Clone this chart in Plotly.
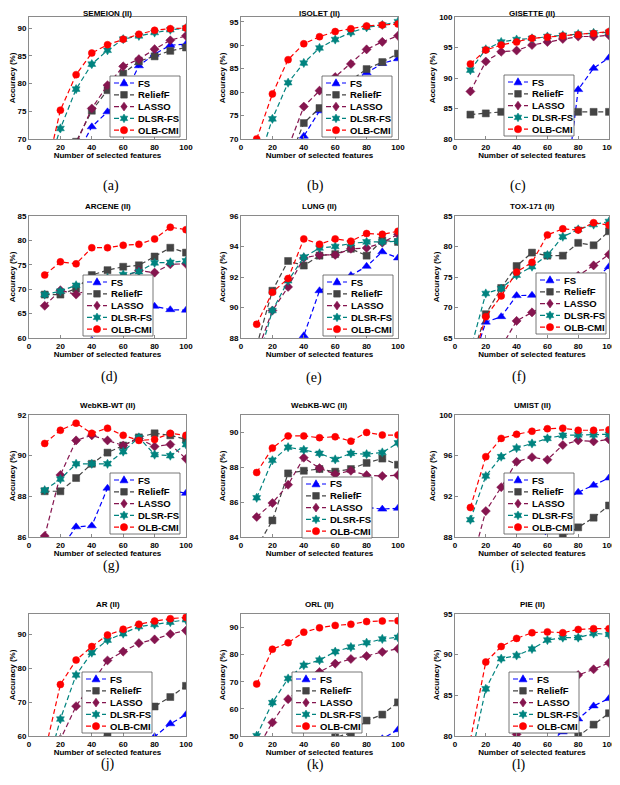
import math

import plotly.graph_objects as go
from plotly.subplots import make_subplots

# the page body keeps its default 8px margin, so the figure starts 8px in
OFF = 8
W, H = 620 - OFF, 785 - OFF
FONT = "Liberation Sans"

n_feat = [10, 20, 30, 40, 50, 60, 70, 80, 90, 100]

methods = ["FS", "ReliefF", "LASSO", "DLSR-FS", "OLB-CMI"]
colors = ["#0000ff", "#444444", "#85154f", "#00837f", "#ff0000"]
symbols = ["triangle-up", "square", "diamond", "hexagram", "circle"]

titles = ["SEMEION (II)", "ISOLET (II)", "GISETTE (II)",
          "ARCENE (II)", "LUNG (II)", "TOX-171 (II)",
          "WebKB-WT (II)", "WebKB-WC (II)", "UMIST (II)",
          "AR (II)", "ORL (II)", "PIE (II)"]
captions = ["(a)", "(b)", "(c)", "(d)", "(e)", "(f)",
            "(g)", "", "(i)", "(j)", "(k)", "(l)"]

# accuracy (%), rows follow `methods`: FS, ReliefF, LASSO, DLSR-FS, OLB-CMI
semeion = [
    [58, 62, 66.9, 72.2, 74.9, 77.5, 83.2, 85.3, 86.9, 87.1],
    [55, 62, 69.5, 75.1, 78.8, 81.8, 84.0, 84.9, 85.9, 86.5],
    [55, 62, 69.2, 75.5, 79.7, 83.1, 84.4, 86.2, 87.8, 88.6],
    [63, 71.9, 79.0, 83.5, 86.0, 88.0, 88.6, 89.2, 89.7, 90.0],
    [63, 75.2, 81.6, 85.5, 87.0, 88.0, 88.9, 89.6, 89.9, 90.0],
]
isolet = [
    [55, 60, 66, 70.6, 76.0, 78.5, 81.5, 84.1, 86.1, 87.1],
    [55, 58, 65, 73.4, 76.6, 79.5, 82.5, 84.9, 86.4, 88.2],
    [55, 60, 68.1, 76.9, 80.3, 83.2, 86.0, 89.1, 90.7, 92.0],
    [64, 74.3, 82.0, 86.2, 89.4, 91.2, 92.7, 93.8, 94.3, 95.0],
    [70.0, 79.6, 86.9, 90.3, 91.8, 92.9, 93.5, 94.1, 94.3, 94.5],
]
gisette = [
    [60, 61, 62, 63, 64, 66, 68, 88.1, 91.6, 93.3],
    [84.0, 84.2, 84.45, 84.45, 84.45, 84.45, 84.45, 84.45, 84.45, 84.45],
    [87.8, 92.7, 94.3, 94.5, 95.4, 95.9, 96.4, 96.8, 96.8, 97.0],
    [91.3, 94.7, 95.9, 96.3, 96.5, 96.8, 97.0, 97.2, 97.4, 97.5],
    [92.3, 94.6, 95.4, 95.9, 96.5, 96.7, 96.9, 97.1, 97.3, 97.6],
]
arcene = [
    [50, 52, 55, 59.5, 65, 67, 67, 66.5, 65.8, 65.7],
    [68.9, 68.9, 70.1, 72.9, 73.9, 74.6, 74.9, 76.7, 78.5, 77.5],
    [66.6, 69.8, 68.9, 70.1, 71.5, 72.5, 73.8, 73.4, 75.1, 75.2],
    [68.9, 69.6, 70.8, 71.5, 72.3, 73.0, 73.6, 75.4, 75.5, 75.8],
    [72.9, 75.6, 75.2, 78.5, 78.5, 79.0, 79.2, 80.3, 82.7, 82.2],
]
lung = [
    [83, 84, 85, 88.15, 91.1, 91.6, 92.1, 92.7, 93.65, 93.25],
    [87.5, 91.1, 93.05, 92.75, 93.4, 93.5, 93.85, 93.4, 94.4, 94.3],
    [87.0, 89.8, 91.35, 93.25, 93.45, 93.45, 93.85, 93.9, 94.25, 94.8],
    [86.2, 89.8, 91.75, 93.3, 93.9, 94.0, 94.2, 94.3, 94.3, 94.35],
    [88.9, 91.0, 91.9, 94.5, 94.15, 94.5, 94.35, 94.85, 94.8, 95.0],
]
tox171 = [
    [60, 67.6, 68.5, 71.95, 72.0, 72.5, 73.5, 74.0, 74.5, 76.7],
    [61, 68.9, 73.2, 76.8, 79.0, 78.5, 78.5, 80.6, 80.2, 82.5],
    [56, 60, 63.5, 67.8, 69.2, 70.5, 72.5, 75.2, 76.9, 78.7],
    [63, 72.3, 73.1, 75.3, 76.7, 78.6, 81.6, 82.8, 83.6, 84.1],
    [60, 68.5, 71.9, 75.8, 77.4, 81.9, 82.9, 82.7, 83.9, 83.5],
]
webkb_wt = [
    [84.5, 85.4, 86.5, 86.55, 88.4, 88.9, 88.7, 88.5, 88.3, 88.15],
    [88.25, 88.25, 88.9, 89.6, 90.15, 90.5, 90.9, 91.1, 91.0, 90.8],
    [86.05, 89.05, 90.75, 91.0, 90.75, 90.5, 90.85, 90.45, 90.55, 89.85],
    [88.3, 88.85, 89.6, 89.6, 89.6, 90.2, 90.9, 90.05, 90.0, 90.55],
    [90.6, 91.25, 91.6, 91.1, 91.35, 91.0, 90.75, 90.8, 91.1, 91.0],
]
webkb_wc = [
    [79, 80, 81, 82, 83.95, 85.0, 85.5, 85.7, 85.6, 85.65],
    [83.4, 84.95, 87.65, 87.8, 87.9, 87.75, 87.9, 88.25, 88.5, 88.15],
    [85.15, 85.95, 87.0, 88.55, 87.95, 87.6, 87.8, 87.55, 87.5, 87.55],
    [86.25, 88.4, 89.15, 89.0, 88.8, 88.45, 88.8, 88.75, 88.85, 89.4],
    [87.7, 89.1, 89.8, 89.8, 89.7, 89.75, 89.5, 90.0, 89.85, 89.85],
]
umist = [
    [78, 80, 82, 84, 86, 88.6, 91.5, 92.4, 93.1, 93.8],
    [78, 79, 80, 82, 84, 86, 88.05, 88.95, 89.9, 91.1],
    [85, 90.55, 92.9, 95.4, 95.85, 95.6, 97.05, 97.5, 97.4, 97.6],
    [89.7, 94.0, 95.9, 96.75, 97.2, 97.7, 98.0, 98.05, 98.05, 98.1],
    [90.9, 95.9, 97.7, 98.1, 98.4, 98.65, 98.7, 98.5, 98.5, 98.55],
]
ar = [
    [45, 47, 49, 51, 53, 55, 57, 59.8, 63.6, 66.3],
    [50, 52, 55, 58, 60.5, 63, 66, 68.7, 71.5, 74.8],
    [50, 59, 68.8, 75.5, 82.3, 84.9, 87.4, 88.5, 90.1, 91.1],
    [48, 65.0, 78.0, 84.6, 88.3, 90.2, 92.3, 92.9, 93.6, 94.3],
    [55, 75.2, 82.4, 86.4, 89.8, 91.5, 93.0, 93.9, 94.6, 95.0],
]
orl = [
    [35, 37, 39, 41, 43, 45, 46, 47.5, 49.0, 52.3],
    [38, 40, 42, 44, 46, 49.5, 51.1, 55.7, 57.9, 62.4],
    [45, 55.0, 63.6, 68.6, 73.6, 76.7, 78.4, 79.5, 81.0, 82.2],
    [50.1, 62.3, 71.2, 76.1, 78.0, 81.1, 82.8, 84.4, 85.8, 86.4],
    [69.2, 82.0, 84.4, 88.3, 89.9, 90.8, 91.2, 92.2, 92.4, 92.5],
]
pie = [
    [70, 72, 74, 76, 77.5, 79, 80.5, 82.1, 83.7, 84.6],
    [68, 70, 72, 73.5, 75, 77, 78.5, 80.0, 81.4, 82.8],
    [70, 74, 77, 80.2, 82.5, 84.5, 86.0, 87.5, 88.2, 89.0],
    [77, 85.8, 89.5, 89.9, 90.7, 91.8, 92.1, 92.1, 92.6, 92.5],
    [79.5, 89.1, 91.0, 92.0, 92.7, 92.8, 92.7, 93.1, 93.2, 93.2],
]

datasets = [semeion, isolet, gisette, arcene, lung, tox171,
            webkb_wt, webkb_wc, umist, ar, orl, pie]

y_ranges = [[70, 92], [70, 96], [80, 100], [60, 85], [88, 96], [65, 85],
            [86, 92], [84, 91], [88, 100], [60, 96], [50, 95], [80, 95]]
y_ticks = [[70, 75, 80, 85, 90], [70, 75, 80, 85, 90, 95], [80, 85, 90, 95, 100],
           [60, 65, 70, 75, 80, 85], [88, 90, 92, 94, 96], [65, 70, 75, 80, 85],
           [86, 88, 90, 92], [84, 86, 88, 90], [88, 92, 96, 100],
           [60, 70, 80, 90], [50, 60, 70, 80, 90], [80, 85, 90, 95]]

# layout in screen pixels
col_px = [(29, 186), (241, 398), (455, 609)]
row_px = [(17, 139), (216, 338), (415, 537), (614, 736)]
legend_px = [(110, 76), (322, 76), (504, 75), (83, 275), (323, 275), (536, 273),
             (110, 473), (302, 477), (504, 473), (82, 672), (292, 672), (509, 672)]
caption_px = [(102, 177), (315, 177), (527, 177), (100, 377), (314, 378), (527, 377),
              (102, 575), (315, 575), (526, 575), (100, 773), (315, 774), (527, 774)]


def px(x):
    return (x - OFF) / W


def py(y):
    return 1 - (y - OFF) / H


def star_path(r_out=4.3, r_in=2.5):
    # six-pointed star as one outline so it fills solid
    pts = []
    for j in range(12):
        ang = math.pi / 2 + j * math.pi / 6
        rad = r_out if j % 2 == 0 else r_in
        pts.append(f"{rad * math.cos(ang):.2f},{rad * math.sin(ang):.2f}")
    return "M" + " L".join(pts) + " Z"


def marker_shape(symbol, xa, ya, color):
    # legend glyphs drawn in pixel units around an anchor
    base = dict(xref="paper", yref="paper", xsizemode="pixel", ysizemode="pixel",
                xanchor=xa, yanchor=ya, fillcolor=color,
                line=dict(color=color, width=0.6), layer="above")
    if symbol == "circle":
        return dict(type="circle", x0=-3.6, x1=3.6, y0=-3.6, y1=3.6, **base)
    if symbol == "square":
        return dict(type="rect", x0=-3.3, x1=3.3, y0=-3.3, y1=3.3, **base)
    paths = {
        "triangle-up": "M-4,-2.8 L4,-2.8 L0,4.2 Z",
        "diamond": "M0,4.4 L3.2,0 L0,-4.4 L-3.2,0 Z",
        "hexagram": star_path(),
    }
    return dict(type="path", path=paths[symbol], **base)


fig = make_subplots(rows=4, cols=3)

bold8 = dict(family=FONT, size=8, color="black", weight="bold")

for k, data in enumerate(datasets):
    r, c = k // 3 + 1, k % 3 + 1
    for i, vals in enumerate(data):
        fig.add_trace(
            go.Scatter(
                x=n_feat,
                y=vals,
                mode="lines+markers",
                name=methods[i],
                showlegend=False,
                line=dict(color=colors[i], width=1.2, dash="5px,3px"),
                marker=dict(symbol=symbols[i], size=8 if i == 0 else 7,
                            color=colors[i], line=dict(color=colors[i], width=0.5)),
            ),
            row=r, col=c,
        )
    x0, x1 = col_px[c - 1]
    y0, y1 = row_px[r - 1]
    fig.update_xaxes(domain=[px(x0), px(x1)], range=[0, 100],
                     tickvals=[0, 20, 40, 60, 80, 100],
                     title=dict(text="Number of selected features", font=bold8, standoff=0),
                     row=r, col=c)
    fig.update_yaxes(domain=[py(y1), py(y0)], range=y_ranges[k], tickvals=y_ticks[k],
                     title=dict(text="Accuracy (%)", font=bold8, standoff=2),
                     row=r, col=c)

    ax = "" if k == 0 else str(k + 1)
    if r == 1:
        # top row titles sit right at the upper edge of the figure
        fig.add_annotation(xref=f"x{ax} domain", yref="paper", x=0.5, y=1,
                           xanchor="center", yanchor="top", borderpad=0,
                           text=titles[k], showarrow=False, font=bold8)
    else:
        fig.add_annotation(xref=f"x{ax} domain", yref=f"y{ax} domain", x=0.5, y=1,
                           xanchor="center", yanchor="bottom", yshift=3,
                           text=titles[k], showarrow=False, font=bold8)

    cx, cy = caption_px[k]
    if captions[k]:
        fig.add_annotation(xref="paper", yref="paper", x=px(cx), y=py(cy),
                           text=captions[k], showarrow=False, borderpad=0,
                           font=dict(family="Liberation Serif", size=14, color="black"))

    # boxed legend inside each panel
    lx, ly = legend_px[k]
    fig.add_shape(type="rect", xref="paper", yref="paper",
                  x0=px(lx), x1=px(lx + 70), y0=py(ly + 61), y1=py(ly),
                  line=dict(color="#555555", width=0.8), fillcolor="white", layer="above")
    for i, name in enumerate(methods):
        yc = py(ly + 7 + i * 11.8)
        fig.add_shape(type="line", xref="paper", yref="paper",
                      x0=px(lx + 4), x1=px(lx + 24), y0=yc, y1=yc,
                      line=dict(color=colors[i], width=1.2, dash="5px,3px"), layer="above")
        fig.add_shape(marker_shape(symbols[i], px(lx + 14), yc, colors[i]))
        fig.add_annotation(xref="paper", yref="paper", x=px(lx + 26), y=yc,
                           xanchor="left", yanchor="middle", text=name, showarrow=False,
                           font=dict(family=FONT, size=9.5, color="black", weight="bold"))

fig.update_xaxes(showline=True, mirror=True, linecolor="#8a8a8a", linewidth=0.8,
                 ticks="inside", ticklen=3, tickcolor="#8a8a8a", showgrid=False,
                 zeroline=False, tickfont=bold8, automargin=False,
                 ticklabeloverflow="allow")
fig.update_yaxes(showline=True, mirror=True, linecolor="#8a8a8a", linewidth=0.8,
                 ticks="inside", ticklen=3, tickcolor="#8a8a8a", showgrid=False,
                 zeroline=False, tickfont=bold8, automargin=False)

fig.update_layout(
    template="none",
    width=W,
    height=H,
    margin=dict(l=0, r=0, t=0, b=0),
    paper_bgcolor="white",
    plot_bgcolor="white",
    font=dict(family=FONT),
)

fig.write_html("out.html")
